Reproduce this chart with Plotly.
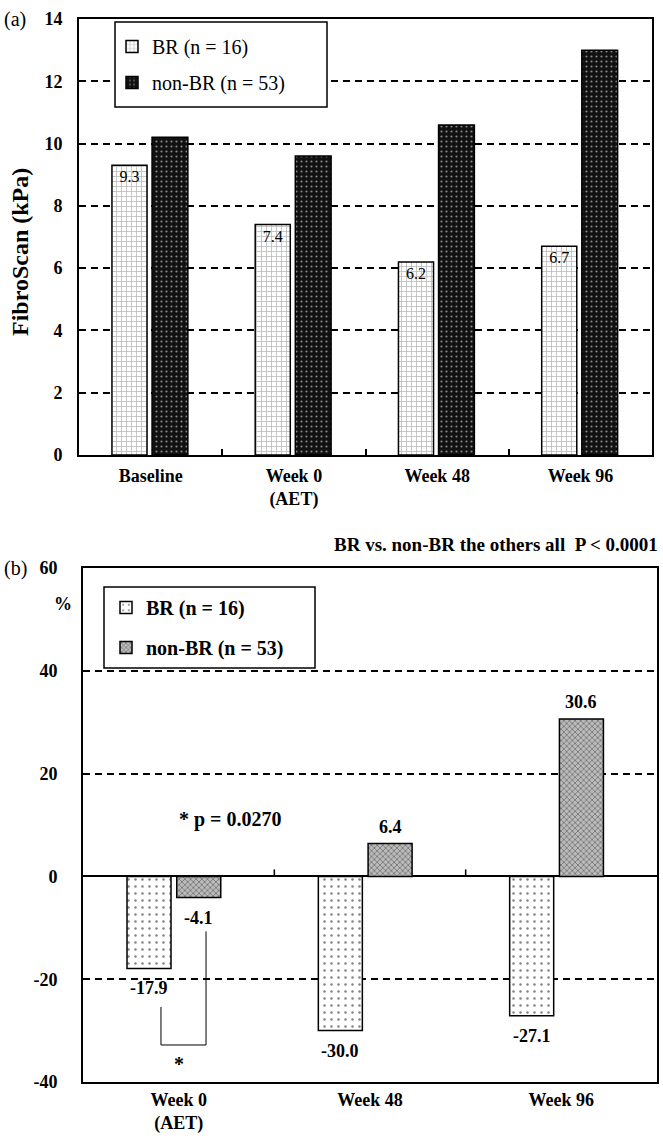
import plotly.graph_objects as go

W, H = 663, 1139
FONT = "Liberation Serif, Times New Roman, serif"

# ---------------- data ----------------
cats_a = ["Baseline", "Week 0<br>(AET)", "Week 48", "Week 96"]
br_a = [9.3, 7.4, 6.2, 6.7]
nonbr_a = [10.2, 9.6, 10.6, 13.0]
yticks_a = [0, 2, 4, 6, 8, 10, 12, 14]

cats_b = ["Week 0<br>(AET)", "Week 48", "Week 96"]
br_b = [-17.9, -30.0, -27.1]
nonbr_b = [-4.1, 6.4, 30.6]
yticks_b = [-40, -20, 0, 20, 40, 60]

name_br = "BR (n = 16)"
name_nonbr = "non-BR (n = 53)"

# bar geometry (fraction of a category slot)
WA_BR, OFF_A_BR = 0.245, -0.27
WA_NB, OFF_A_NB = 0.25, 0.01
WB, OFF_B_BR, OFF_B_NB = 0.23, -0.27, -0.01


def px_x(p):
    return p / W


def px_y(p):
    return 1 - p / H


fig = go.Figure()

# ---------------- panel (a) ----------------
fig.add_trace(go.Bar(
    x=cats_a, y=br_a, xaxis="x", yaxis="y", name=name_br,
    width=WA_BR, offset=OFF_A_BR,
    marker=dict(color="white", line=dict(color="black", width=1.5),
                pattern=dict(shape="+", fgcolor="#777777", bgcolor="white",
                             size=5, solidity=0.3)),
    text=[f"{v:.1f}" for v in br_a], textposition="inside",
    insidetextanchor="end", constraintext="none",
    textfont=dict(family=FONT, size=16, color="black"),
    legend="legend", legendgroup="a1",
))
fig.add_trace(go.Bar(
    x=cats_a, y=nonbr_a, xaxis="x", yaxis="y", name=name_nonbr,
    width=WA_NB, offset=OFF_A_NB,
    marker=dict(color="#111111", line=dict(color="black", width=1.5),
                pattern=dict(shape=".", fgcolor="white", bgcolor="#111111",
                             size=5, solidity=0.15)),
    legend="legend", legendgroup="a2",
))

# ---------------- panel (b) ----------------
fig.add_trace(go.Bar(
    x=cats_b, y=br_b, xaxis="x2", yaxis="y2", name=name_br,
    width=WB, offset=OFF_B_BR,
    marker=dict(color="white", line=dict(color="black", width=1.5),
                pattern=dict(shape=".", fgcolor="black", bgcolor="white",
                             size=7, solidity=0.1)),
    legend="legend2", legendgroup="b1",
))
fig.add_trace(go.Bar(
    x=cats_b, y=nonbr_b, xaxis="x2", yaxis="y2", name=name_nonbr,
    width=WB, offset=OFF_B_NB,
    marker=dict(color="#aaaaaa", line=dict(color="black", width=1.5),
                pattern=dict(shape="x", fgcolor="#333333", bgcolor="#bbbbbb",
                             size=4, solidity=0.4)),
    legend="legend2", legendgroup="b2",
))

axis_line = dict(showline=True, mirror=True, linecolor="black", linewidth=2)
grid = dict(showgrid=True, gridcolor="black", gridwidth=2, griddash="7px,5px")
tickfont = dict(family=FONT, size=18, color="black", weight="bold")

fig.update_layout(
    width=W, height=H,
    margin=dict(l=0, r=0, t=0, b=0, autoexpand=False),
    paper_bgcolor="white", plot_bgcolor="white",
    barmode="overlay",
    font=dict(family=FONT, size=18, color="black"),
    xaxis=dict(domain=[px_x(79), px_x(652)], anchor="y", type="category",
               categoryorder="array", categoryarray=cats_a,
               range=[-0.5, len(cats_a) - 0.5], automargin=False,
               ticks="inside", tickson="boundaries", ticklen=6, tickwidth=1.5,
               tickcolor="black", tickfont=tickfont, showgrid=False,
               ticklabelstandoff=3, **axis_line),
    yaxis=dict(domain=[px_y(455), px_y(19)], anchor="x", range=[0, 14],
               tickvals=yticks_a, ticktext=[str(v) for v in yticks_a],
               ticks="", tickfont=tickfont, automargin=False,
               zeroline=False, ticklabelstandoff=11, **grid, **axis_line),
    xaxis2=dict(domain=[px_x(83), px_x(657)], anchor="y2", type="category",
                categoryorder="array", categoryarray=cats_b,
                range=[-0.5, len(cats_b) - 0.5], automargin=False,
                ticks="", tickfont=tickfont, showgrid=False,
                ticklabelstandoff=0, **axis_line),
    yaxis2=dict(domain=[px_y(1082), px_y(568)], anchor="x2", range=[-40, 60],
                tickvals=yticks_b, ticktext=[str(v) for v in yticks_b],
                ticks="", tickfont=tickfont, automargin=False,
                zeroline=True, zerolinecolor="black", zerolinewidth=1.5,
                ticklabelstandoff=20, **grid, **axis_line),
    legend=dict(x=px_x(112), y=px_y(27), xanchor="left", yanchor="top",
                bgcolor="rgba(0,0,0,0)", borderwidth=0,
                font=dict(family=FONT, size=20, color="black"),
                traceorder="grouped", tracegroupgap=7),
    legend2=dict(x=px_x(106), y=px_y(588), xanchor="left", yanchor="top",
                 bgcolor="rgba(0,0,0,0)", borderwidth=0,
                 font=dict(family=FONT, size=20, color="black", weight="bold"),
                 traceorder="grouped", tracegroupgap=11),
)

shapes = [
    # legend boxes
    dict(type="rect", xref="paper", yref="paper",
         x0=px_x(115), x1=px_x(327), y0=px_y(107), y1=px_y(22),
         line=dict(color="black", width=1.5), fillcolor="white", layer="above"),
    dict(type="rect", xref="paper", yref="paper",
         x0=px_x(104), x1=px_x(315), y0=px_y(668), y1=px_y(587),
         line=dict(color="black", width=1.5), fillcolor="white", layer="above"),
]
# small category-boundary ticks on the zero line of panel (b)
for i in range(len(cats_b) - 1):
    shapes.append(dict(type="line", xref="x2", yref="y2", ysizemode="pixel",
                       yanchor=0, x0=i + 0.5, x1=i + 0.5, y0=0, y1=7,
                       line=dict(color="black", width=1.5)))
# significance bracket between BR and non-BR at Week 0
shapes.append(dict(type="path", xref="x2", yref="y2",
                   path="M -0.0925,-25.4 L -0.0925,-32.8 L 0.143,-32.8 L 0.143,-10.7",
                   line=dict(color="black", width=1)))
fig.update_layout(shapes=shapes)

bold = dict(family=FONT, color="black", weight="bold")
annotations = [
    dict(text="(a)", x=px_x(2), y=px_y(20), xref="paper", yref="paper",
         xanchor="left", yanchor="middle", showarrow=False,
         font=dict(family=FONT, size=20, color="black")),
    dict(text="(b)", x=px_x(2), y=px_y(568), xref="paper", yref="paper",
         xanchor="left", yanchor="middle", showarrow=False,
         font=dict(family=FONT, size=20, color="black")),
    dict(text="FibroScan (kPa)", x=px_x(20), y=px_y(252), xref="paper",
         yref="paper", textangle=-90, showarrow=False,
         xanchor="center", yanchor="middle",
         font=dict(size=24, **bold)),
    dict(text="%", x=px_x(52), y=px_y(604), xref="paper", yref="paper",
         showarrow=False, font=dict(size=18, **bold)),
    dict(text="BR vs. non-BR the others all \u00a0P < 0.0001",
         x=px_x(660), y=px_y(544), xref="paper", yref="paper",
         xanchor="right", yanchor="middle", showarrow=False,
         font=dict(size=19, **bold)),
    dict(text="* p = 0.0270", x=px_x(177), y=px_y(833), xref="paper",
         yref="paper", showarrow=False, font=dict(size=20, **bold)),
    dict(text="*", x=0, y=-36.5, xref="x2", yref="y2", showarrow=False,
         font=dict(size=20, **bold)),
]
# value labels for panel (b), placed just beyond each bar end
for i, v in enumerate(br_b):
    annotations.append(dict(text=f"{v:.1f}", x=i + OFF_B_BR + WB / 2, y=v,
                            xref="x2", yref="y2", showarrow=False,
                            yshift=20 if v >= 0 else -20,
                            font=dict(size=18, **bold)))
for i, v in enumerate(nonbr_b):
    annotations.append(dict(text=f"{v:.1f}", x=i + OFF_B_NB + WB / 2, y=v,
                            xref="x2", yref="y2", showarrow=False,
                            yshift=17 if v >= 0 else -21,
                            font=dict(size=18, **bold)))
fig.update_layout(annotations=annotations)

fig.write_html("out.html",
               config={"displayModeBar": False},
               post_script="document.body.style.margin='0px';"
                           "document.body.style.overflow='hidden';")
